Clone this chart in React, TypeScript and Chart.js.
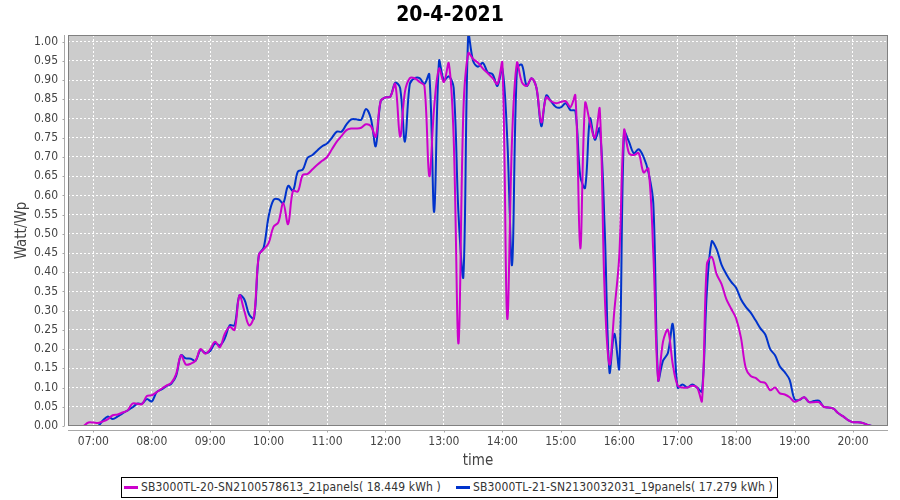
import React, { useEffect, useRef } from "react";
import { Chart, registerables } from "chart.js";

Chart.register(...registerables);

const TITLE = "20-4-2021";
const Y_TITLE = "Watt/Wp";
const X_TITLE = "time";
const SERIES_NAMES = [
  "SB3000TL-20-SN2100578613_21panels( 18.449 kWh )",
  "SB3000TL-21-SN2130032031_19panels( 17.279 kWh )",
];
const COLORS = ["#cc00cc", "#0033cc"];

const X_TICKS = [
  "07:00", "08:00", "09:00", "10:00", "11:00", "12:00", "13:00",
  "14:00", "15:00", "16:00", "17:00", "18:00", "19:00", "20:00",
];
const Y_TICKS = [
  0, 0.05, 0.1, 0.15, 0.2, 0.25, 0.3, 0.35, 0.4, 0.45, 0.5,
  0.55, 0.6, 0.65, 0.7, 0.75, 0.8, 0.85, 0.9, 0.95, 1.0,
];
const X_MIN = "06:34";
const X_MAX = "20:36";
const Y_MAX = 1.0174;

const TIMES = [
  "06:50", "06:55",
  "07:00", "07:05", "07:10", "07:15", "07:20", "07:25", "07:30", "07:35", "07:40", "07:45", "07:50", "07:55",
  "08:00", "08:05", "08:10", "08:15", "08:20", "08:25", "08:30", "08:35", "08:40", "08:45", "08:50", "08:55",
  "09:00", "09:05", "09:10", "09:15", "09:20", "09:25", "09:30", "09:35", "09:40", "09:45", "09:50", "09:55",
  "10:00", "10:05", "10:10", "10:15", "10:20", "10:25", "10:30", "10:35", "10:40", "10:45", "10:50", "10:55",
  "11:00", "11:05", "11:10", "11:15", "11:20", "11:25", "11:30", "11:35", "11:40", "11:45", "11:50", "11:55",
  "12:00", "12:05", "12:10", "12:15", "12:20", "12:25", "12:30", "12:35", "12:40", "12:45", "12:50", "12:55",
  "13:00", "13:05", "13:10", "13:15", "13:20", "13:25", "13:30", "13:35", "13:40", "13:45", "13:50", "13:55",
  "14:00", "14:05", "14:10", "14:15", "14:20", "14:25", "14:30", "14:35", "14:40", "14:45", "14:50", "14:55",
  "15:00", "15:05", "15:10", "15:15", "15:20", "15:25", "15:30", "15:35", "15:40", "15:45", "15:50", "15:55",
  "16:00", "16:05", "16:10", "16:15", "16:20", "16:25", "16:30", "16:35", "16:40", "16:45", "16:50", "16:55",
  "17:00", "17:05", "17:10", "17:15", "17:20", "17:25", "17:30", "17:35", "17:40", "17:45", "17:50", "17:55",
  "18:00", "18:05", "18:10", "18:15", "18:20", "18:25", "18:30", "18:35", "18:40", "18:45", "18:50", "18:55",
  "19:00", "19:05", "19:10", "19:15", "19:20", "19:25", "19:30", "19:35", "19:40", "19:45", "19:50", "19:55",
  "20:00", "20:05", "20:10", "20:15", "20:20",
];

const SERIES_20 = [
  0, 0.009,
  0.009, 0.008, 0.012, 0.018, 0.028, 0.03, 0.035, 0.04, 0.058, 0.058, 0.057, 0.078,
  0.08, 0.088, 0.097, 0.105, 0.112, 0.135, 0.184, 0.16, 0.162, 0.17, 0.2, 0.188,
  0.2, 0.219, 0.205, 0.24, 0.258, 0.25, 0.34, 0.3, 0.262, 0.285, 0.445, 0.46,
  0.476, 0.518, 0.53, 0.58, 0.525, 0.612, 0.61, 0.653, 0.656, 0.668, 0.68, 0.69,
  0.7, 0.72, 0.74, 0.755, 0.77, 0.774, 0.774, 0.776, 0.785, 0.78, 0.753, 0.845,
  0.855, 0.857, 0.89, 0.753, 0.87, 0.905, 0.905, 0.895, 0.885, 0.65, 0.83, 0.93,
  0.895, 0.944, 0.75, 0.215, 0.82, 0.97, 0.955, 0.945, 0.93, 0.918, 0.905, 0.89,
  0.945, 0.28, 0.75, 0.945, 0.895, 0.885, 0.905, 0.88, 0.79, 0.855, 0.845, 0.84,
  0.843, 0.845, 0.83, 0.86, 0.462, 0.84, 0.79, 0.75, 0.825, 0.35, 0.16, 0.3,
  0.44, 0.77, 0.71, 0.705, 0.71, 0.66, 0.67, 0.45, 0.12, 0.22, 0.25, 0.16,
  0.105, 0.1, 0.1, 0.105, 0.1, 0.065, 0.42, 0.44, 0.395, 0.37, 0.33, 0.305,
  0.28, 0.23, 0.15, 0.13, 0.125, 0.115, 0.112, 0.093, 0.1, 0.085, 0.082, 0.075,
  0.063, 0.068, 0.075, 0.062, 0.062, 0.062, 0.05, 0.048, 0.045, 0.033, 0.025, 0.015,
  0.01, 0.01, 0.008, 0.003, 0,
];

const SERIES_21 = [
  null, null,
  0, 0, 0.015, 0.025, 0.018, 0.025, 0.033, 0.04, 0.048, 0.058, 0.058, 0.07,
  0.064, 0.088, 0.095, 0.104, 0.11, 0.13, 0.184, 0.176, 0.175, 0.17, 0.198, 0.19,
  0.195, 0.215, 0.21, 0.228, 0.262, 0.262, 0.34, 0.33, 0.29, 0.28, 0.445, 0.465,
  0.545, 0.588, 0.59, 0.58, 0.625, 0.612, 0.662, 0.667, 0.698, 0.705, 0.717, 0.728,
  0.735, 0.75, 0.766, 0.766, 0.785, 0.798, 0.798, 0.797, 0.825, 0.8, 0.728, 0.845,
  0.855, 0.857, 0.893, 0.88, 0.74, 0.89, 0.905, 0.905, 0.89, 0.915, 0.557, 0.95,
  0.9, 0.91, 0.88, 0.55, 0.39, 1.02, 0.95, 0.935, 0.945, 0.92, 0.915, 0.885,
  0.93, 0.75, 0.42, 0.93, 0.94, 0.885, 0.905, 0.88, 0.78, 0.86, 0.845, 0.83,
  0.829, 0.84, 0.822, 0.82, 0.65, 0.62, 0.8, 0.745, 0.775, 0.52, 0.14, 0.24,
  0.15, 0.765, 0.74, 0.71, 0.72, 0.7, 0.66, 0.58, 0.12, 0.17, 0.19, 0.265,
  0.1, 0.108, 0.1, 0.108, 0.1, 0.09, 0.35, 0.48, 0.46, 0.42, 0.395, 0.375,
  0.36, 0.33, 0.31, 0.295, 0.275, 0.254, 0.238, 0.2, 0.184, 0.155, 0.14, 0.12,
  0.07, 0.068, 0.075, 0.062, 0.065, 0.066, 0.05, 0.048, 0.045, 0.033, 0.025, 0.015,
  0.01, 0.01, 0.008, 0.003, 0,
];

const FONT = '"DejaVu Sans Condensed", "Liberation Sans", Arial, sans-serif';

function toMin(s: string): number {
  const [h, m] = s.split(":").map(Number);
  return h * 60 + m;
}
function fmtMin(v: number): string {
  const h = Math.floor(v / 60);
  const m = Math.round(v - h * 60);
  return String(h).padStart(2, "0") + ":" + String(m).padStart(2, "0");
}

const plotFrame = {
  id: "plotFrame",
  beforeDraw(chart: any) {
    const { ctx, chartArea: a } = chart;
    ctx.save();
    ctx.fillStyle = "#cccccc";
    ctx.fillRect(a.left, a.top, a.right - a.left, a.bottom - a.top);
    ctx.restore();
  },
  afterDraw(chart: any) {
    const { ctx, chartArea: a, scales } = chart;
    ctx.save();
    ctx.lineWidth = 1;
    ctx.strokeStyle = "#808080";
    ctx.strokeRect(Math.round(a.left) + 0.5, Math.round(a.top) + 0.5, Math.round(a.right - a.left) - 1, Math.round(a.bottom - a.top) - 1);
    ctx.strokeStyle = "#a8a8a8";
    const ax = Math.round(a.left) - 4 + 0.5;
    ctx.beginPath();
    ctx.moveTo(ax, a.top);
    ctx.lineTo(ax, a.bottom);
    for (const t of Y_TICKS) {
      const y = Math.round(scales.y.getPixelForValue(t)) + 0.5;
      ctx.moveTo(ax - 2, y);
      ctx.lineTo(ax, y);
    }
    const ay = Math.round(a.bottom) + 4 + 0.5;
    ctx.moveTo(a.left, ay);
    ctx.lineTo(a.right, ay);
    for (const t of X_TICKS) {
      const x = Math.round(scales.x.getPixelForValue(toMin(t))) + 0.5;
      ctx.moveTo(x, ay);
      ctx.lineTo(x, ay + 2);
    }
    ctx.stroke();
    ctx.restore();
  },
};

export default function App() {
  const canvasRef = useRef<HTMLCanvasElement | null>(null);

  useEffect(() => {
    const canvas = canvasRef.current;
    if (!canvas) return;
    const mk = (vals: (number | null)[]) =>
      TIMES.map((t, i) => ({ x: toMin(t), y: vals[i] }));
    const chart = new Chart(canvas, {
      type: "line",
      data: {
        datasets: [
          {
            label: SERIES_NAMES[0],
            data: mk(SERIES_20) as any,
            borderColor: COLORS[0],
            backgroundColor: COLORS[0],
            borderWidth: 2,
            pointRadius: 0,
            tension: 0.35,
            fill: false,
          },
          {
            label: SERIES_NAMES[1],
            data: mk(SERIES_21) as any,
            borderColor: COLORS[1],
            backgroundColor: COLORS[1],
            borderWidth: 2,
            pointRadius: 0,
            tension: 0.35,
            fill: false,
          },
        ],
      },
      options: {
        animation: false,
        responsive: false,
        devicePixelRatio: 1,
        layout: { padding: { left: 0, right: 12, top: 35, bottom: 30 } },
        plugins: {
          legend: { display: false },
          title: { display: false },
          tooltip: { enabled: false },
        },
        scales: {
          x: {
            type: "linear",
            min: toMin(X_MIN),
            max: toMin(X_MAX),
            afterBuildTicks: (s: any) => {
              s.ticks = X_TICKS.map((t) => ({ value: toMin(t) }));
            },
            afterFit: (s: any) => {
              s.height = 44;
            },
            ticks: {
              autoSkip: false,
              maxRotation: 0,
              padding: 9,
              color: "#444444",
              font: { family: FONT, size: 12 },
              callback: (v: any) => fmtMin(Number(v)),
            },
            grid: { color: "#ffffff", lineWidth: 1, drawTicks: false },
            border: { display: false, dash: [2, 2] },
            title: {
              display: true,
              text: X_TITLE,
              color: "#444444",
              font: { family: FONT, size: 15 },
              padding: { top: 0, bottom: 0 },
            },
          },
          y: {
            type: "linear",
            min: 0,
            max: Y_MAX,
            afterBuildTicks: (s: any) => {
              s.ticks = Y_TICKS.map((v) => ({ value: v }));
            },
            afterFit: (s: any) => {
              s.width = 68;
            },
            ticks: {
              padding: 10,
              color: "#444444",
              font: { family: FONT, size: 12 },
              callback: (v: any) => Number(v).toFixed(2),
            },
            grid: { color: "#ffffff", lineWidth: 1, drawTicks: false },
            border: { display: false, dash: [2, 2] },
            title: {
              display: true,
              text: Y_TITLE,
              color: "#444444",
              font: { family: FONT, size: 15 },
              padding: { top: 13, bottom: 0 },
            },
          },
        },
      },
      plugins: [plotFrame],
    });
    return () => chart.destroy();
  }, []);

  return (
    <div style={{ position: "absolute", left: 0, top: 0, width: 900, height: 500, background: "#ffffff", fontFamily: FONT }}>
      <canvas ref={canvasRef} width={900} height={500} style={{ display: "block", width: 900, height: 500 }} />
      <div
        style={{
          position: "absolute", left: 0, top: 0, width: 900, height: 28, lineHeight: "28px",
          textAlign: "center", fontWeight: "bold", fontSize: 21, color: "#000000",
        }}
      >
        {TITLE}
      </div>
      <div
        style={{
          position: "absolute", left: 121, top: 477, width: 657, height: 21, boxSizing: "border-box",
          border: "1px solid #000000", background: "#ffffff", fontSize: 12, color: "#333333",
          letterSpacing: "0.12px",
        }}
      >
        {SERIES_NAMES.map((name, i) => (
          <div key={i} style={{ position: "absolute", left: i === 0 ? 2 : 334, top: 0, height: 19, whiteSpace: "nowrap" }}>
            <span style={{ position: "absolute", left: 0, top: 8, width: 14, height: 3, background: COLORS[i] }} />
            <span style={{ position: "absolute", left: 17, top: 0, lineHeight: "19px" }}>{name}</span>
          </div>
        ))}
      </div>
    </div>
  );
}
